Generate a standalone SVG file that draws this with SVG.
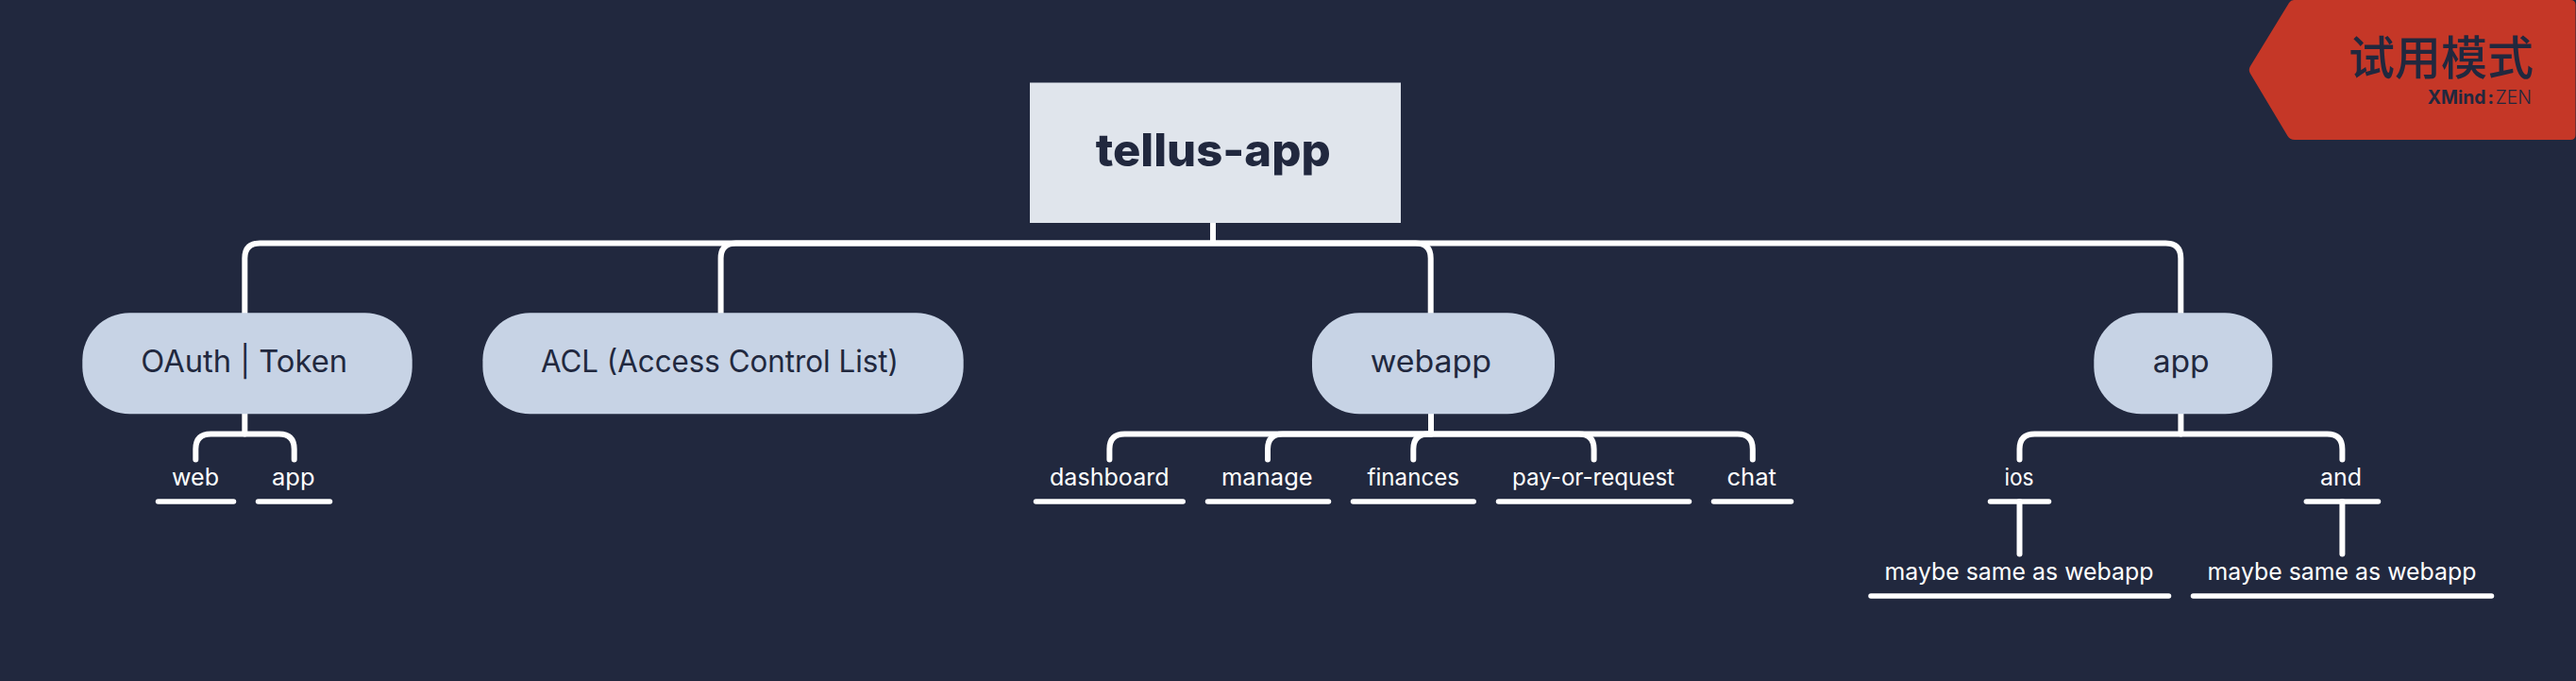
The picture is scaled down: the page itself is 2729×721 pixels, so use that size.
<svg xmlns="http://www.w3.org/2000/svg" width="2729" height="721" viewBox="0 0 2729 721">
<style>
.c{fill:none;stroke:#fff;stroke-width:6}
.u{fill:none;stroke:#fff;stroke-width:5.5;stroke-linecap:round}
.m{fill:#c7d3e5}
.t{font-family:"Inter","Liberation Sans",sans-serif}
.mt{font-size:32px;fill:#21283e}
.st{font-size:25px;fill:#fff}
</style>
<rect width="2729" height="721" fill="#21283e"/>
<g id="connectors">
<path class="c" d="M1285 236V257.500"/>
<path class="c" d="M1285 257.500H275.300Q259.300 257.500 259.300 273.500V332"/>
<path class="c" d="M1285 257.500H779.600Q763.600 257.500 763.600 273.500V332"/>
<path class="c" d="M1285 257.500H1499.700Q1515.700 257.500 1515.700 273.500V332"/>
<path class="c" d="M1285 257.500H2294.300Q2310.300 257.500 2310.300 273.500V332"/>
<path class="c" d="M259.300 438V459.500" stroke-width="5"/>
<path class="c" d="M259.300 459.500H223.300Q207.300 459.500 207.300 475.500V486.500" stroke-linecap="round"/>
<path class="c" d="M259.300 459.500H295.700Q311.700 459.500 311.700 475.500V486.500" stroke-linecap="round"/>
<path class="c" d="M1516 438V459.500"/>
<path class="c" d="M1516 459.500H1191.400Q1175.400 459.500 1175.400 475.500V486.500" stroke-linecap="round"/>
<path class="c" d="M1516 459.500H1359Q1343 459.500 1343 475.500V486.500" stroke-linecap="round"/>
<path class="c" d="M1516 459.500H1513.300Q1497.300 459.500 1497.300 475.500V486.500" stroke-linecap="round"/>
<path class="c" d="M1516 459.500H1672.600Q1688.600 459.500 1688.600 475.500V486.500" stroke-linecap="round"/>
<path class="c" d="M1516 459.500H1840.800Q1856.800 459.500 1856.800 475.500V486.500" stroke-linecap="round"/>
<path class="c" d="M2310.400 438V459.500"/>
<path class="c" d="M2310.400 459.500H2155.500Q2139.500 459.500 2139.500 475.500V486.500" stroke-linecap="round"/>
<path class="c" d="M2310.400 459.500H2465.400Q2481.400 459.500 2481.400 475.500V486.500" stroke-linecap="round"/>
<path class="c" d="M2139.500 531V586.500" stroke-linecap="round"/>
<path class="c" d="M2481.400 531V586.500" stroke-linecap="round"/>
</g>
<g id="root"><rect x="1091" y="87.500" width="393" height="148.500" fill="#e0e5ec"/><text class="t" x="1160.700" y="176" font-size="48" font-weight="800" fill="#21283e" textLength="249" lengthAdjust="spacingAndGlyphs">tellus-app</text></g>
<g id="oauth"><rect class="m" x="87.300" y="331.300" width="349.400" height="107" rx="50"/><text class="t mt" x="149.300" y="394" textLength="218.700" lengthAdjust="spacingAndGlyphs">OAuth | Token</text></g>
<g id="acl"><rect class="m" x="511.400" y="331.300" width="509.300" height="107" rx="50"/><text class="t mt" x="572.900" y="394" textLength="379" lengthAdjust="spacingAndGlyphs">ACL (Access Control List)</text></g>
<g id="webapp"><rect class="m" x="1390" y="331.300" width="257" height="107" rx="50"/><text class="t mt" x="1451.700" y="394" textLength="128.300" lengthAdjust="spacingAndGlyphs">webapp</text></g>
<g id="app"><rect class="m" x="2218.300" y="331.300" width="189" height="107" rx="50"/><text class="t mt" x="2280.700" y="394" textLength="60" lengthAdjust="spacingAndGlyphs">app</text></g>
<g id="web"><text class="t st" x="182" y="513.500" textLength="50" lengthAdjust="spacingAndGlyphs">web</text><path class="u" d="M167.500 531H247.500"/></g>
<g id="oauth-app"><text class="t st" x="288" y="513.500" textLength="45.500" lengthAdjust="spacingAndGlyphs">app</text><path class="u" d="M273.500 531H349.500"/></g>
<g id="dashboard"><text class="t st" x="1112" y="513.500" textLength="126.600" lengthAdjust="spacingAndGlyphs">dashboard</text><path class="u" d="M1097.500 531H1253.200"/></g>
<g id="manage"><text class="t st" x="1294" y="513.500" textLength="96.700" lengthAdjust="spacingAndGlyphs">manage</text><path class="u" d="M1279.500 531H1407.500"/></g>
<g id="finances"><text class="t st" x="1448.600" y="513.500" textLength="97.400" lengthAdjust="spacingAndGlyphs">finances</text><path class="u" d="M1433.500 531H1561.200"/></g>
<g id="pay-or-request"><text class="t st" x="1602" y="513.500" textLength="172" lengthAdjust="spacingAndGlyphs">pay-or-request</text><path class="u" d="M1587.500 531H1789.500"/></g>
<g id="chat"><text class="t st" x="1829.500" y="513.500" textLength="52.500" lengthAdjust="spacingAndGlyphs">chat</text><path class="u" d="M1815.500 531H1897.500"/></g>
<g id="ios"><text class="t st" x="2123.400" y="513.500" textLength="31.200" lengthAdjust="spacingAndGlyphs">ios</text><path class="u" d="M2108.500 531H2170.500"/></g>
<g id="and"><text class="t st" x="2458" y="513.500" textLength="44" lengthAdjust="spacingAndGlyphs">and</text><path class="u" d="M2443.300 531H2519.500"/></g>
<g id="ios-note"><text class="t st" x="1996.600" y="613.500" textLength="284.800" lengthAdjust="spacingAndGlyphs">maybe same as webapp</text><path class="u" d="M1982 631H2297.500"/></g>
<g id="and-note"><text class="t st" x="2338.600" y="613.500" textLength="284.800" lengthAdjust="spacingAndGlyphs">maybe same as webapp</text><path class="u" d="M2323.500 631H2639.500"/></g>
<g id="trial-badge">
<path d="M2430 0H2723Q2728.500 0 2728.500 5V143Q2728.500 148 2723 148H2431Q2426 148 2423.500 144L2384 78Q2381.500 74 2384 70L2425 3Q2427 0 2430 0Z" fill="#c53727"/>
<text x="2488" y="79" font-family="'Noto Sans CJK SC',sans-serif" font-size="49" font-weight="500" fill="#21283e">试用模式</text>
<text class="t" x="2571.700" y="110" font-size="19.500" fill="#21283e" textLength="110.300" lengthAdjust="spacingAndGlyphs"><tspan font-weight="700">XMind</tspan><tspan font-weight="700" dx="2">:</tspan><tspan font-weight="300" dx="2">ZEN</tspan></text>
</g>
</svg>
